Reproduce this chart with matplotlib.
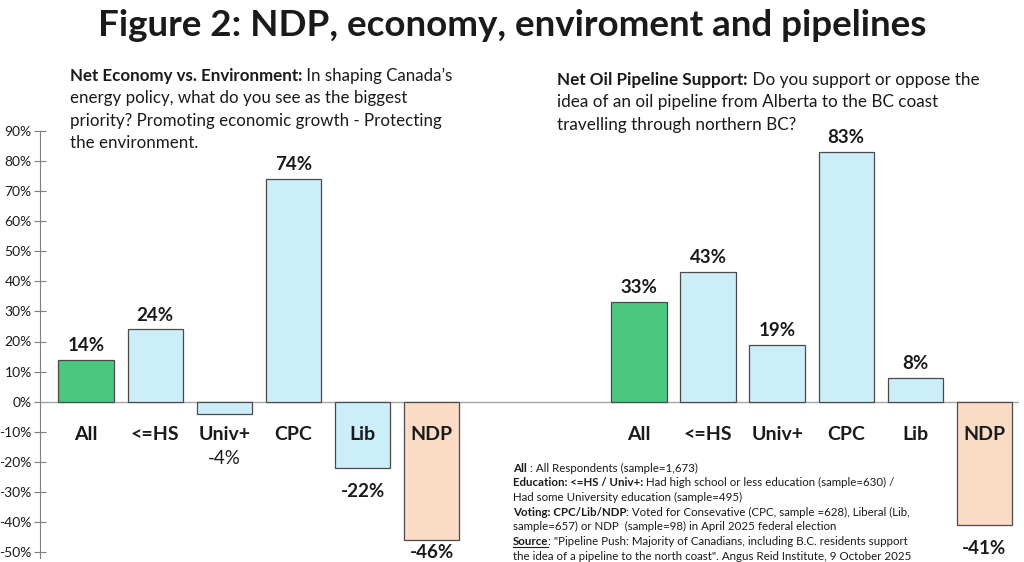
import matplotlib
matplotlib.use("Agg")
import matplotlib.pyplot as plt

# データ
categories = ["All", "<=HS", "Univ+", "CPC", "Lib", "NDP"]
economy_net = [14, 24, -4, 74, -22, -46]
pipeline_net = [33, 43, 19, 83, 8, -41]
yticks = list(range(-50, 91, 10))

plt.rcParams["font.family"] = ["Lato", "DejaVu Sans"]

GREEN = "#4CC77F"
BLUE = "#CBEEF9"
PEACH = "#FADCC6"
EDGE = "#4a4a4a"
TXT = "#1a1a1a"

W, H = 1024, 562
fig = plt.figure(figsize=(W / 100, H / 100), dpi=100)


def fx(px):
    return px / W


def fy(py):
    return 1 - py / H


ax = fig.add_axes([fx(40), fy(552), fx(1019) - fx(40), fy(131) - fy(552)])

bar_colors = [GREEN] + [BLUE] * 4 + [PEACH]
left_pos = list(range(6))
right_pos = [p + 8 for p in left_pos]

for positions, values in [(left_pos, economy_net), (right_pos, pipeline_net)]:
    ax.bar(positions, values, width=0.8, color=bar_colors, edgecolor=EDGE,
           linewidth=0.9, zorder=3)
    for p, v, c in zip(positions, values, categories):
        ax.text(p, -10.3, c, ha="center", va="center_baseline", fontsize=14,
                fontweight="bold", color=TXT, zorder=4)
        if v >= 0:
            ax.text(p, v + 5.3, f"{v}%", ha="center", va="center_baseline",
                    fontsize=13.5, fontweight="bold", color=TXT)
        else:
            ly = max(min(v - 7.5, -18.5), -49.8)
            weight = "bold" if v < -10 else "normal"
            ax.text(p, ly, f"{v}%", ha="center", va="center_baseline",
                    fontsize=13.5, fontweight=weight, color=TXT)

ax.axhline(0, color="#a6a6a6", linewidth=1.0, zorder=2)
ax.set_xlim(-0.667, 13.5)
ax.set_ylim(-50, 90)
ax.set_yticks(yticks)
ax.set_yticklabels([f"{t}%" for t in yticks], fontsize=10, color=TXT)
ax.set_xticks([])
for s in ["top", "right", "bottom"]:
    ax.spines[s].set_visible(False)
ax.spines["left"].set_color("#7f7f7f")
ax.spines["left"].set_bounds(-52, 90)
ax.tick_params(axis="y", direction="inout", length=8, width=0.8,
               color="#7f7f7f", pad=2)

# タイトル
fig.text(0.5, fy(25), "Figure 2: NDP, economy, enviroment and pipelines",
         ha="center", va="center", fontsize=26.5, fontweight="bold", color=TXT)

fig.canvas.draw()
renderer = fig.canvas.get_renderer()


def mixed_line(x, y, parts, size):
    """太字と標準の混在した一行を描く"""
    cur = x
    for txt, weight, underline in parts:
        t = fig.text(cur, y, txt, ha="left", va="baseline", fontsize=size,
                     fontweight=weight, color=TXT)
        bb = t.get_window_extent(renderer=renderer)
        if underline:
            fig.add_artist(plt.Line2D([bb.x0 / W, bb.x1 / W],
                                      [y - 2.2 / H, y - 2.2 / H],
                                      color=TXT, linewidth=0.8))
        cur = bb.x1 / W


# 左の小見出し
left_lines = [
    [("Net Economy vs. Environment:", "bold", False),
     (" In shaping Canada\u2019s", "normal", False)],
    [("energy policy, what do you see as the biggest", "normal", False)],
    [("priority? Promoting economic growth - Protecting", "normal", False)],
    [("the environment.", "normal", False)],
]
for i, parts in enumerate(left_lines):
    mixed_line(fx(70), fy(81 + i * 22.5), parts, 12.2)

# 右の小見出し
right_lines = [
    [("Net Oil Pipeline Support:", "bold", False),
     (" Do you support or oppose the", "normal", False)],
    [("idea of an oil pipeline from Alberta to the BC coast", "normal", False)],
    [("travelling through northern BC?", "normal", False)],
]
for i, parts in enumerate(right_lines):
    mixed_line(fx(557), fy(85 + i * 22.5), parts, 12.3)

# 注記
notes = [
    [("All", "bold", False), (" : All Respondents (sample=1,673)", "normal", False)],
    [("Education: <=HS / Univ+:", "bold", False),
     (" Had high school or less education (sample=630) /", "normal", False)],
    [("Had some University education (sample=495)", "normal", False)],
    [("Voting: CPC/Lib/NDP", "bold", False),
     (": Voted for Consevative (CPC, sample =628), Liberal (Lib,", "normal", False)],
    [("sample=657) or NDP  (sample=98) in April 2025 federal election", "normal", False)],
    [("Source", "bold", True),
     (": \"Pipeline Push: Majority of Canadians, including B.C. residents support", "normal", False)],
    [("the idea of a pipeline to the north coast\". Angus Reid Institute, 9 October 2025",
      "normal", False)],
]
for i, parts in enumerate(notes):
    mixed_line(fx(513), fy(471.5 + i * 14.7), parts, 8.3)

fig.savefig("out.png", dpi=100)
